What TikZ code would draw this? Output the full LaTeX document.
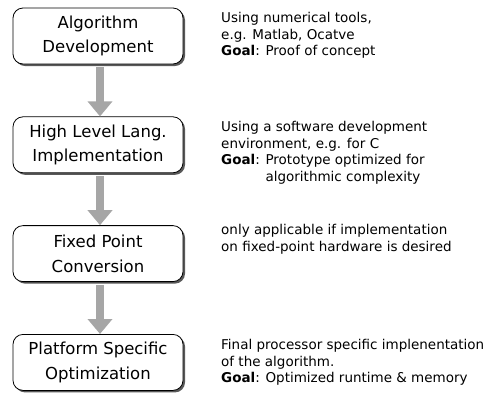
\documentclass[tikz,border=0pt]{standalone}
\usepackage{fontspec}
\setmainfont{DejaVu Sans}
\usepackage{tikz}
\usetikzlibrary{positioning,arrows.meta,shadows}

\begin{document}
\begin{tikzpicture}[x=1pt,y=-1pt,node distance=52pt,
    stage/.style={draw=black,thick,fill=white,rounded corners=10pt,minimum width=170pt,minimum height=56pt,
        align=center,inner sep=0pt,font=\fontsize{16.5}{24.5}\selectfont,
        drop shadow={opacity=1,fill=black!65,shadow xshift=2pt,shadow yshift=-2pt}},
    note/.style={anchor=north west,align=left,inner sep=0pt,font=\fontsize{13.5}{16.5}\selectfont},
    flow/.style={draw=black!45,line width=8pt,color=black!35,shorten <=3pt,-{Triangle[width=24pt,length=15pt]}}]
        \useasboundingbox (0,0) rectangle (490,392);
        \node[stage] (algo) at (98,36) {Algorithm\\Development};
        \node[stage,below=of algo] (hll) {High Level Lang.\\Implementation};
        \node[stage,below=of hll] (fixp) {Fixed Point\\Conversion};
        \node[stage,below=of fixp] (plat) {Platform Specific\\Optimization};
        \draw[flow] ([xshift=2pt]algo.south) -- ([xshift=2pt]hll.north);
        \draw[flow] ([xshift=2pt]hll.south) -- ([xshift=2pt]fixp.north);
        \draw[flow] ([xshift=2pt]fixp.south) -- ([xshift=2pt]plat.north);
        \node[note] (algonote) at (221,12.5) {Using numerical tools,\\e.g. Matlab, Ocatve\\\textbf{Goal}: Proof of concept};
        \node[note] (hllnote) at (221,121.5) {Using a software development\\environment, e.g. for C\\\textbf{Goal}: Prototype optimized for\\\phantom{\textbf{Goal}: }algorithmic complexity};
        \node[note] (fixpnote) at (221,224.5) {only applicable if implementation\\on fixed-point hardware is desired};
        \node[note] (platnote) at (221,339.5) {Final processor specific implenentation\\of the algorithm.\\\textbf{Goal}: Optimized runtime \& memory};
    \end{tikzpicture}
\end{document}
